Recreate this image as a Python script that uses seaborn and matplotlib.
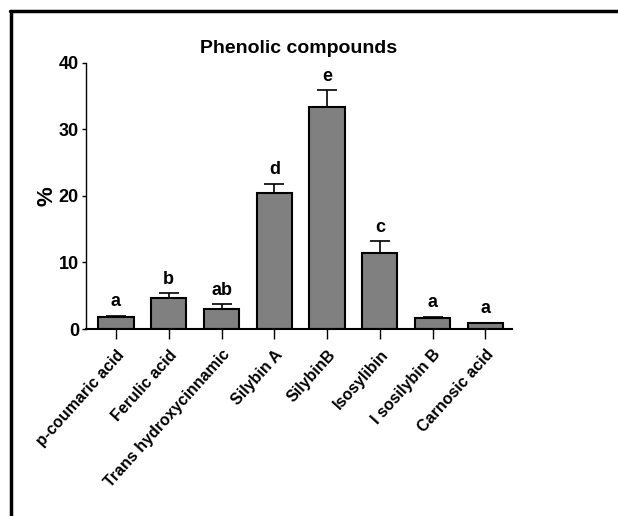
import numpy as np
import pandas as pd
import matplotlib
matplotlib.use('Agg')
import matplotlib.pyplot as plt
import seaborn as sns
from matplotlib.lines import Line2D

compounds = ['p-coumaric acid', 'Ferulic acid', 'Trans hydroxycinnamic', 'Silybin A',
             'SilybinB', 'Isosylibin', 'I sosilybin B', 'Carnosic acid']
percent = [1.8, 4.7, 3.05, 20.4, 33.4, 11.5, 1.6, 0.95]
sem = [0.2, 0.65, 0.65, 1.45, 2.5, 1.7, 0.2, 0.0]
letters = ['a', 'b', 'ab', 'd', 'e', 'c', 'a', 'a']

df = pd.DataFrame({'compound': compounds, 'percent': percent, 'sem': sem})

sns.set_style('ticks', {'text.color': 'black', 'axes.labelcolor': 'black',
                        'xtick.color': 'black', 'ytick.color': 'black',
                        'axes.edgecolor': 'black'})
plt.rcParams['font.family'] = ['Liberation Sans', 'DejaVu Sans']
plt.rcParams['font.weight'] = 'bold'

fig = plt.figure(figsize=(6.18, 5.16), dpi=100)
ax = fig.add_axes([0.139, 0.3624, 0.689, 0.5156])

sns.barplot(data=df, x='compound', y='percent', color='#808080', saturation=1,
            edgecolor='black', linewidth=1.5, width=0.67, errorbar=None, ax=ax)

xpos = np.arange(len(compounds))
ax.errorbar(xpos, df['percent'], yerr=[np.zeros(len(sem)), df['sem']], fmt='none',
            ecolor='black', elinewidth=1.2, capsize=7, capthick=1.2)

for x, v, e, lab in zip(xpos, percent, sem, letters):
    ax.annotate(lab, (x, v + e), xytext=(0, 4), textcoords='offset points',
                ha='center', va='bottom', fontsize=13, fontweight='bold', color='black')

ax.set_ylim(0, 40)
ax.set_xlim(-0.57, 7.5)
ax.set_yticks([0, 10, 20, 30, 40])
ax.tick_params(axis='y', labelsize=13, length=3, width=1, direction='out', pad=2)
ax.tick_params(axis='x', labelsize=11.5, length=7, width=1, direction='out', pad=6)
for t in ax.get_xticklabels():
    t.set_rotation(48)
    t.set_ha('right')
    t.set_rotation_mode('anchor')
    t.set_fontweight('bold')
for t in ax.get_yticklabels():
    t.set_fontweight('bold')

ax.set_xlabel('')
ax.set_ylabel('%', fontsize=16, fontweight='bold', labelpad=1)
ax.set_title('Phenolic compounds', fontsize=14, fontweight='bold', pad=7)
sns.despine(ax=ax)
ax.spines['left'].set_linewidth(1)
ax.spines['bottom'].set_linewidth(1.5)

# border on top and left of the figure
fig.add_artist(Line2D([10 / 618, 1], [1 - 11 / 516, 1 - 11 / 516], color='black', lw=2.5,
                      transform=fig.transFigure))
fig.add_artist(Line2D([11 / 618, 11 / 618], [0, 1 - 11 / 516], color='black', lw=2.5,
                      transform=fig.transFigure))

fig.savefig('out.png', dpi=100)
